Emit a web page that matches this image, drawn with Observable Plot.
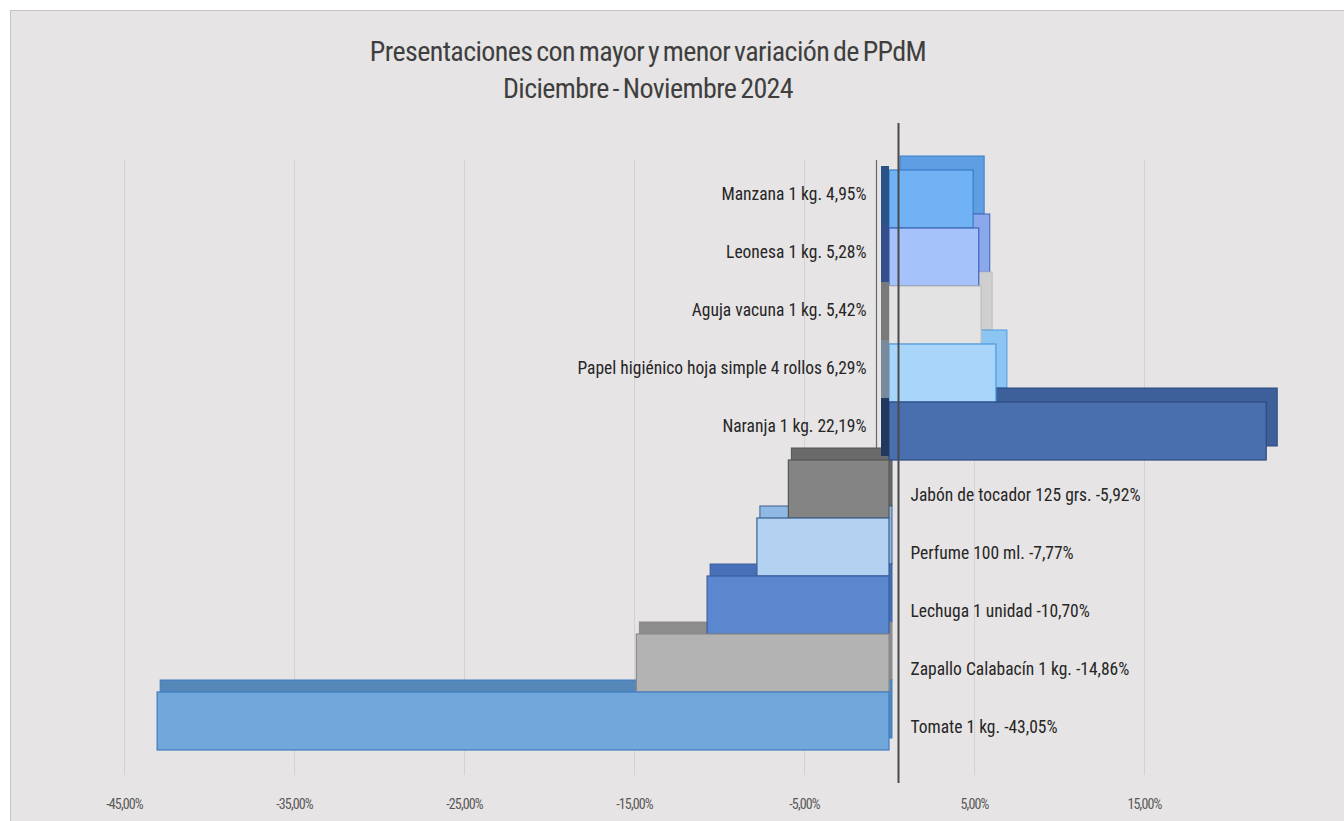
<!DOCTYPE html>
<html>
<head>
<meta charset="utf-8">
<script src="https://cdn.jsdelivr.net/npm/d3@7"></script>
<script src="https://cdn.jsdelivr.net/npm/@observablehq/plot@0.6"></script>
<style>
  html, body { margin: 0; padding: 0; background: #ffffff; }
  #frame {
    position: absolute; left: 10px; top: 10px; width: 1340px; height: 820px;
    background: #e6e4e4; border-top: 1px solid #c4c2c2; border-left: 1px solid #c4c2c2;
    font-family: "Liberation Sans Narrow", "Arial Narrow", "Roboto Condensed", "DejaVu Sans Condensed", sans-serif;
  }
  #title {
    height: 110px; box-sizing: border-box; padding-top: 22px; text-align: center;
    color: #3f3f3f; font-size: 28px; line-height: 37px; width: 1274px;
    letter-spacing: -0.6px; word-spacing: -2px;
  }
  #chart svg { display: block; }
</style>
</head>
<body>
<div id="frame">
  <div id="title">Presentaciones con mayor y menor variación de PPdM<br>Diciembre - Noviembre 2024</div>
  <div id="chart"></div>
</div>
<script>
// ---- data ----
const categories = [
  "Manzana 1 kg.",
  "Leonesa 1 kg.",
  "Aguja vacuna 1 kg.",
  "Papel higiénico hoja simple 4 rollos",
  "Naranja 1 kg.",
  "Jabón de tocador 125 grs.",
  "Perfume 100 ml.",
  "Lechuga 1 unidad",
  "Zapallo Calabacín 1 kg.",
  "Tomate 1 kg."
];
const values = [4.95, 5.28, 5.42, 6.29, 22.19, -5.92, -7.77, -10.70, -14.86, -43.05];
const frontColors = ["#70b2f3", "#a6c2fa", "#e3e3e3", "#a9d5fa", "#4a6fae", "#848484", "#b3d2f1", "#5b87cf", "#b3b3b3", "#71a7da"];
const topColors   = ["#5e9fe4", "#8aa8ea", "#cfcfcf", "#8cc4f2", "#3d5f9a", "#6a6a6a", "#8fb8e4", "#4870b8", "#8c8c8c", "#5587b8"];
const edgeColors  = ["#3c7cc8", "#3f62b8", "#bdbdbd", "#4a9ae0", "#2c4a80", "#555555", "#3a5f8c", "#3a5e9e", "#8a8a8a", "#3f7cc0"];
const sideColors  = ["#2a5488", "#34508a", "#7a7a7a", "#7a8a9a", "#22385e", "#4a4a4a", "#4a6fa0", "#34589a", "#7a7a7a", "#4a80c0"];
const tickValues = [-45, -35, -25, -15, -5, 5, 15];

const fmt = v => v.toFixed(2).replace(".", ",") + "%";
const rows = categories.map((c, i) => ({
  cat: c, value: values[i], front: frontColors[i], top: topColors[i],
  edge: edgeColors[i], side: sideColors[i],
  label: c + " " + fmt(values[i])
}));
const pos = rows.filter(d => d.value >= 0);
const neg = rows.filter(d => d.value < 0);

const chart = Plot.plot({
  width: 1333,
  height: 701,
  marginLeft: 79,
  marginRight: 13,
  marginTop: 48,
  marginBottom: 72,
  style: {background: "transparent", fontFamily: "'Liberation Sans Narrow', 'Arial Narrow', 'Roboto Condensed', sans-serif", fontSize: "14px", color: "#595959"},
  color: {type: "identity"},
  x: {domain: [-47, 26], ticks: tickValues, tickFormat: fmt, tickSize: 0, tickPadding: 49, label: null},
  y: {domain: categories, padding: 0, axis: null},
  marks: [
    Plot.ruleX(tickValues, {stroke: "#d3d1d1", strokeWidth: 1, insetTop: -9, insetBottom: -25}),
    Plot.ruleX([0], {stroke: "#6a6a6a", strokeWidth: 1.2, dx: -13, insetTop: -9, insetBottom: 0}),
    // back (top) faces
    Plot.barX(pos, {x1: 0, x2: "value", y: "cat", fill: "top", stroke: "edge", strokeWidth: 1, dx: 11, dy: -14}),
    Plot.barX(neg, {x1: 0, x2: "value", y: "cat", fill: "top", stroke: "edge", strokeWidth: 1, dx: 3, dy: -12}),
    // front faces
    Plot.barX(rows, {x1: 0, x2: "value", y: "cat", fill: "front", stroke: "edge", strokeWidth: 1.2}),
    // left side strip of positive bars
    Plot.barX(pos, {x1: 0, x2: 0, y: "cat", fill: "side", insetLeft: -8, dy: -4}),
    // labels
    Plot.text(pos, {x: 0, y: "cat", text: "label", textAnchor: "end", dx: -23, dy: -5, fontSize: 17.5, fill: "#262626"}),
    Plot.text(neg, {x: 0, y: "cat", text: "label", textAnchor: "start", dx: 21, dy: 6, fontSize: 17.5, fill: "#262626"}),
    Plot.ruleX([0], {stroke: "#4a4a4a", strokeWidth: 2, dx: 9, insetTop: -46, insetBottom: -33})
  ]
});
// condense the x-axis tick labels like the original narrow font
d3.select(chart).selectAll("g[aria-label*='axis'] text")
  .style("font-size", "14px").style("letter-spacing", "-0.9px");
document.getElementById("chart").appendChild(chart);
</script>
</body>
</html>
